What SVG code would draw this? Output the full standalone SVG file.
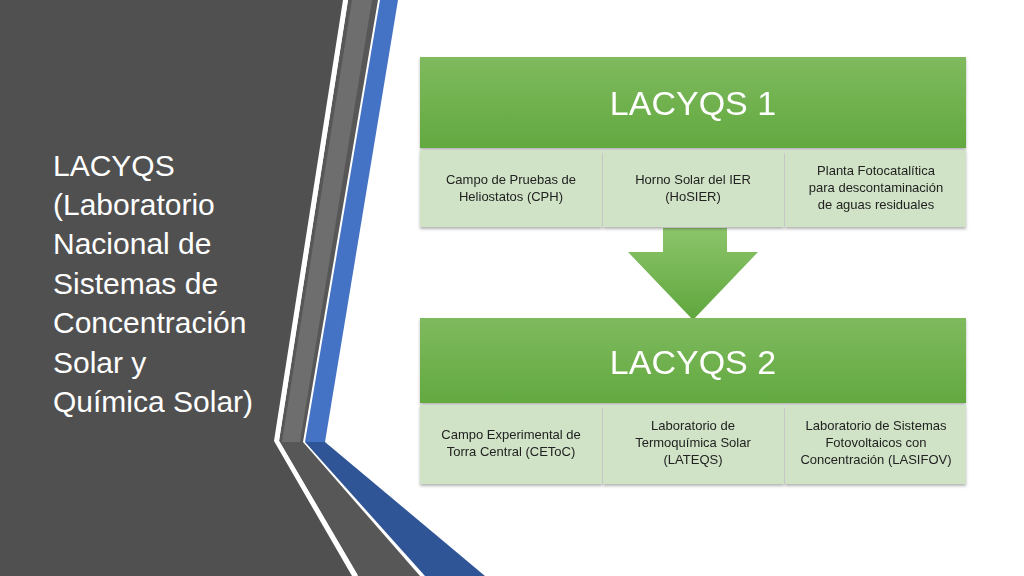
<svg xmlns="http://www.w3.org/2000/svg" width="1024" height="576" viewBox="0 0 1024 576">
<defs>
<linearGradient id="g" x1="0" y1="0" x2="0" y2="1"><stop offset="0" stop-color="#7fba5e"/><stop offset="1" stop-color="#62a940"/></linearGradient>
<linearGradient id="ga" x1="0" y1="0" x2="0" y2="1"><stop offset="0" stop-color="#8cc56b"/><stop offset="1" stop-color="#5fa63d"/></linearGradient>
<filter id="sh" x="-5%" y="-5%" width="110%" height="115%"><feDropShadow dx="0" dy="2" stdDeviation="1.5" flood-color="#000" flood-opacity="0.3"/></filter>
<style>
.hd{fill:url(#g)}
.cell{fill:#d0e3c6}
.ht{font-family:"Liberation Sans",sans-serif;font-size:34px;fill:#fff;text-anchor:middle}
.ct{font-family:"Liberation Sans",sans-serif;font-size:13px;fill:#222;text-anchor:middle}
.tt{font-family:"Liberation Sans",sans-serif;font-size:30px;fill:#fff}
</style>
</defs>
<rect width="1024" height="576" fill="#fff"/>
<g id="background">
<polygon points="0,0 343,0 274,441 352,576 0,576" fill="#505050"/>
<polygon points="348,0 440,0 440,576 358,576 279,441" fill="#575757"/>
<polyline points="346,0 277,441 356,576" fill="none" stroke="#fff" stroke-width="4"/>
<polygon points="352,0 372,0 300,442 282,442" fill="#6e6e6e"/>
<polygon points="378,0 1024,0 1024,576 420,576 303,442" fill="#fff"/>
<polygon points="380,0 398,0 325,442 305,442" fill="#4472c4"/>
<polygon points="305,442 325,442 485,576 425,576" fill="#2f5597"/>
</g>
<g id="title">
<text class="tt" x="53" y="176">LACYQS</text>
<text class="tt" x="53" y="215">(Laboratorio</text>
<text class="tt" x="53" y="254">Nacional de</text>
<text class="tt" x="53" y="294">Sistemas de</text>
<text class="tt" x="53" y="333">Concentración</text>
<text class="tt" x="53" y="373">Solar y</text>
<text class="tt" x="53" y="412">Química Solar)</text>
</g>
<g id="connectors">
<polygon points="663,228 727,228 727,252 758,252 693,320 628,252 663,252" fill="url(#ga)"/>
</g>
<g id="lacyqs1" filter="url(#sh)">
<rect class="hd" x="420" y="57" width="546" height="91"/>
<text class="ht" x="693" y="115">LACYQS 1</text>
<rect class="cell" x="420" y="150" width="182" height="77"/>
<rect class="cell" x="603" y="150" width="181" height="77"/>
<rect class="cell" x="785" y="150" width="181" height="77"/>
<text class="ct" x="511" y="184">Campo de Pruebas de</text>
<text class="ct" x="511" y="201">Heliostatos (CPH)</text>
<text class="ct" x="693" y="184">Horno Solar del IER</text>
<text class="ct" x="693" y="201">(HoSIER)</text>
<text class="ct" x="876" y="175">Planta Fotocatalítica</text>
<text class="ct" x="876" y="192">para descontaminación</text>
<text class="ct" x="876" y="209">de aguas residuales</text>
</g>
<g id="lacyqs2" filter="url(#sh)">
<rect class="hd" x="420" y="318" width="546" height="85"/>
<text class="ht" x="693" y="374">LACYQS 2</text>
<rect class="cell" x="420" y="405" width="182" height="79"/>
<rect class="cell" x="603" y="405" width="181" height="79"/>
<rect class="cell" x="785" y="405" width="181" height="79"/>
<text class="ct" x="511" y="439">Campo Experimental de</text>
<text class="ct" x="511" y="456">Torra Central (CEToC)</text>
<text class="ct" x="693" y="430">Laboratorio de</text>
<text class="ct" x="693" y="447">Termoquímica Solar</text>
<text class="ct" x="693" y="464">(LATEQS)</text>
<text class="ct" x="876" y="430">Laboratorio de Sistemas</text>
<text class="ct" x="876" y="447">Fotovoltaicos con</text>
<text class="ct" x="876" y="464">Concentración (LASIFOV)</text>
</g>
</svg>
